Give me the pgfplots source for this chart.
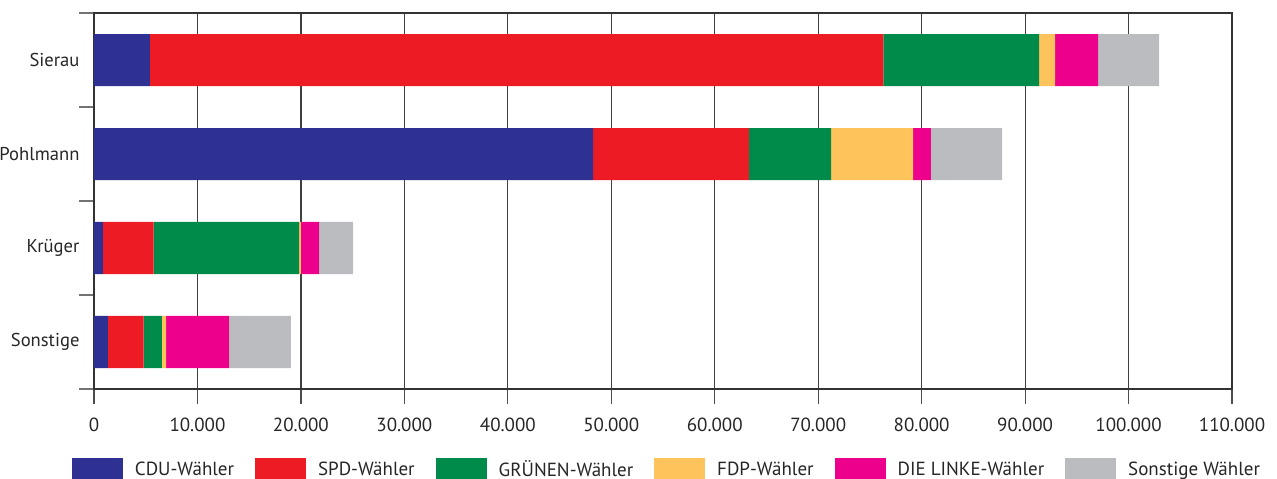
\documentclass[border=0pt]{standalone}
\usepackage{pgfplots}
\pgfplotsset{compat=1.18}
\usepackage{fontspec}
\setmainfont{PT Sans}
\usetikzlibrary{calc}

\definecolor{cdu}{HTML}{2E3192}
\definecolor{spd}{HTML}{ED1C24}
\definecolor{gruene}{HTML}{008B4B}
\definecolor{fdp}{HTML}{FEC35A}
\definecolor{linke}{HTML}{EC008C}
\definecolor{sonst}{HTML}{BBBCBF}

\begin{document}
\begin{tikzpicture}
\begin{axis}[
    scale only axis,
    width=1138pt, height=376pt,
    xbar stacked, bar width=52pt,
    xmin=0, xmax=110000,
    ymin=-0.5, ymax=3.5,
    xtick distance=10000,
    scaled x ticks=false,
    xticklabel style={yshift=-10pt, /pgf/number format/.cd, fixed, 1000 sep={.}, assume math mode=true},
    ytick={0,1,2,3},
    yticklabels={Sonstige,Krüger,Pohlmann,Sierau},
    yticklabel style={xshift=4pt, font=\fontsize{18.6}{22}\selectfont},
    minor ytick={-0.5,0.5,1.5,2.5,3.5},
    xtick pos=bottom, ytick pos=left,
    tick align=outside,
    major tick length=15pt, minor tick length=15pt,
    x tick style={draw=black!70, line width=1.2pt},
    minor y tick style={draw=black!55, line width=1.2pt},
    major y tick style={draw=none},
    ticklabel style={font=\fontsize{19}{22}\selectfont, text=black!85},
    axis line style={draw=black!80, line width=1.6pt},
    xmajorgrids,
    major grid style={draw=black!75, line width=1.2pt},
    legend columns=6,
    legend style={at={(0.5026,-0.1835)}, anchor=north, draw=none, inner sep=0pt,
        font=\fontsize{19}{22}\selectfont, text=black!85,
        nodes={inner sep=0pt},
        /tikz/every odd column/.append style={column sep=12pt},
        /tikz/every even column/.append style={column sep=21pt}},
    legend image code/.code={\fill[#1] (0pt,-11pt) rectangle (51pt,11pt);},
]
\addplot[fill=cdu, draw=none] coordinates {(5410,3) (48240,2) (870,1) (1350,0)};
\addplot[fill=spd, draw=none] coordinates {(70890,3) (15060,2) (4900,1) (3450,0)};
\addplot[fill=gruene, draw=none] coordinates {(15050,3) (7940,2) (14050,1) (1770,0)};
\addplot[fill=fdp, draw=none] coordinates {(1550,3) (7930,2) (180,1) (390,0)};
\addplot[fill=linke, draw=none] coordinates {(4150,3) (1730,2) (1750,1) (6090,0)};
\addplot[fill=sonst, draw=none] coordinates {(5900,3) (6870,2) (3290,1) (5990,0)};
\legend{CDU-Wähler, SPD-Wähler, GRÜNEN-Wähler, FDP-Wähler, DIE LINKE-Wähler, Sonstige Wähler}
\coordinate (bl) at (rel axis cs:0,0);
\coordinate (tr) at (rel axis cs:1,1);
\end{axis}
\pgfresetboundingbox
\path ($(bl)+(-94pt,-90pt)$) rectangle ($(tr)+(45pt,13pt)$);
\end{tikzpicture}
\end{document}
